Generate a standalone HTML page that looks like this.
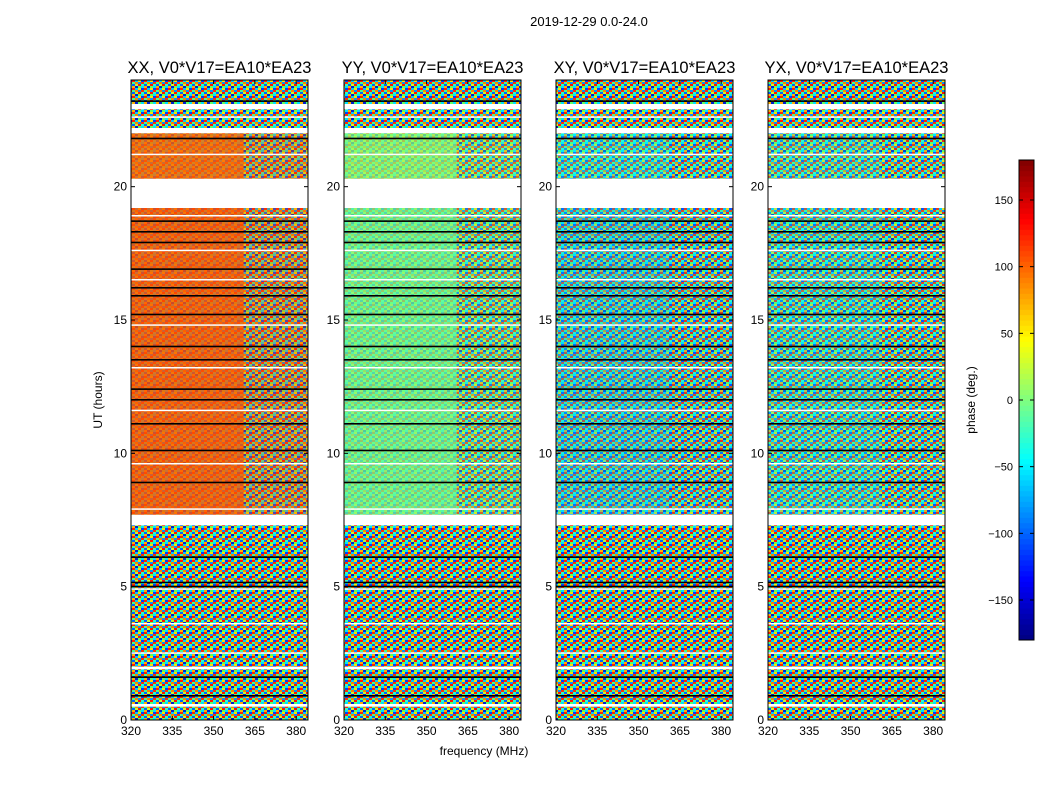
<!DOCTYPE html>
<html><head><meta charset="utf-8">
<style>
body{margin:0;background:#fff;}
svg{display:block;font-family:"Liberation Sans","DejaVu Sans",sans-serif;}
</style></head>
<body>
<svg id="chart" width="1050" height="800" viewBox="0 0 1050 800" xmlns="http://www.w3.org/2000/svg">
<defs>
<pattern id="noise" width="12" height="8" patternUnits="userSpaceOnUse">
<rect x="0" y="0" width="3" height="2" fill="#ff2000"/><rect x="3" y="0" width="3" height="2" fill="#00c8ff"/><rect x="6" y="0" width="3" height="2" fill="#ffe000"/><rect x="9" y="0" width="3" height="2" fill="#0040ff"/>
<rect x="0" y="2" width="3" height="2" fill="#40ff90"/><rect x="3" y="2" width="3" height="2" fill="#ff8000"/><rect x="6" y="2" width="3" height="2" fill="#0090ff"/><rect x="9" y="2" width="3" height="2" fill="#ff3000"/>
<rect x="0" y="4" width="3" height="2" fill="#0060ff"/><rect x="3" y="4" width="3" height="2" fill="#c0ff30"/><rect x="6" y="4" width="3" height="2" fill="#ff1000"/><rect x="9" y="4" width="3" height="2" fill="#30ffc0"/>
<rect x="0" y="6" width="3" height="2" fill="#ffb000"/><rect x="3" y="6" width="3" height="2" fill="#0020d0"/><rect x="6" y="6" width="3" height="2" fill="#60ff60"/><rect x="9" y="6" width="3" height="2" fill="#00e0ff"/>
</pattern>
</defs>
<text x="589" y="26" font-size="13" text-anchor="middle">2019-12-29 0.0-24.0</text>
<g id="panels"></g>
<text x="484" y="755" font-size="12" text-anchor="middle">frequency (MHz)</text>
<text transform="translate(102,400) rotate(-90)" font-size="12" text-anchor="middle">UT (hours)</text>
<g id="cbar"></g>
<text transform="translate(975,400) rotate(-90)" font-size="12" text-anchor="middle">phase (deg.)</text>
</svg>
<script>
const panelTitles = ["XX, V0*V17=EA10*EA23","YY, V0*V17=EA10*EA23","XY, V0*V17=EA10*EA23","YX, V0*V17=EA10*EA23"];
const xTicks = [320,335,350,365,380];
const yTicks = [0,5,10,15,20];
const cbTicks = [150,100,50,0,-50,-100,-150];
const blockStart = [0.0,0.5,0.6,1.9,2.0,7.3,7.7,19.2,20.3,22.0,22.2,22.9,23.1];
const blockEnd   = [0.5,0.6,1.9,2.0,7.3,7.7,19.2,20.3,22.0,22.2,22.9,23.1,24.0];
const blockKind  = [1,0,1,0,1,0,2,0,2,0,1,0,1];
const meanXX = [0,0,0,0,0,0,105,0,100,0,0,0,0];
const meanYY = [0,0,0,0,0,0,-5,0,5,0,0,0,0];
const meanXY = [0,0,0,0,0,0,-60,0,-40,0,0,0,0];
const meanYX = [0,0,0,0,0,0,-40,0,-30,0,0,0,0];
const means = [meanXX,meanYY,meanXY,meanYX];
const biasStrength = [0.8,0.75,0.35,0.3];
const blackLines = [0.9,1.6,5.0,5.15,6.1,8.9,10.1,11.1,12.0,12.4,13.5,14.0,15.2,15.9,16.2,16.9,17.9,18.3,18.7,21.8,23.2];
const whiteLines = [2.5,3.6,4.9,7.9,9.6,11.6,13.2,14.8,16.5,17.6,18.9,21.2,22.6];

const NS="http://www.w3.org/2000/svg";
const svg=document.getElementById('chart');
function mk(t,a,p){const e=document.createElementNS(NS,t);for(const k in a)e.setAttribute(k,a[k]);(p||svg).appendChild(e);return e;}
function jet(v){const t=(v+180)/360;const r=Math.max(0,Math.min(1,1.5-Math.abs(4*t-3))),g=Math.max(0,Math.min(1,1.5-Math.abs(4*t-2))),b=Math.max(0,Math.min(1,1.5-Math.abs(4*t-1)));return `rgb(${Math.round(r*255)},${Math.round(g*255)},${Math.round(b*255)})`;}

const panelLeft=[131,344,556,768], pw=177, pTop=80, pBot=720;
const fMin=320,fMax=384.3, hMax=24;
const panelsG=document.getElementById('panels');
panelLeft.forEach((L,p)=>{
  const g=mk('g',{},panelsG);
  
  
  const X=f=>L+(f-fMin)/(fMax-fMin)*pw;
  const Y=h=>pBot-h/hMax*(pBot-pTop);
  blockStart.forEach((s,i)=>{
    const y0=Y(blockEnd[i]),y1=Y(s);
    if(blockKind[i]===0)return;
    const r=mk('rect',{x:L,y:y0,width:pw,height:y1-y0,fill:'url(#noise)'},g);
    
    
    if(blockKind[i]===2){
      const b=mk('rect',{x:L,y:y0,width:X(361)-L,height:y1-y0,fill:jet(means[p][i]),opacity:biasStrength[p]},g);
      
      
      const b2=mk('rect',{x:X(361),y:y0,width:L+pw-X(361),height:y1-y0,fill:jet(means[p][i]),opacity:biasStrength[p]*0.4},g);
      
      
    }
  });
  blackLines.forEach(h=>{const l=mk('rect',{x:L,y:Y(h)-1,width:pw,height:1.6,fill:'#000'},g);});
  whiteLines.forEach(h=>{const l=mk('rect',{x:L,y:Y(h)-1,width:pw,height:1.5,fill:'#fff'},g);});
  const fr=mk('rect',{x:L,y:pTop,width:pw,height:pBot-pTop,fill:'none',stroke:'#000','stroke-width':1},g);
  
  const t=mk('text',{x:L+pw/2,y:pTop-7,'font-size':16.5,'text-anchor':'middle'},g);t.textContent=panelTitles[p];
  
  xTicks.forEach(v=>{const x=X(v);mk('line',{x1:x,x2:x,y1:pBot,y2:pBot-4,stroke:'#000'},g);mk('line',{x1:x,x2:x,y1:pTop,y2:pTop+4,stroke:'#000'},g);
    const tl=mk('text',{x:x,y:pBot+15,'font-size':12,'text-anchor':'middle'},g);tl.textContent=v;});
  yTicks.forEach(v=>{const y=Y(v);mk('line',{x1:L,x2:L+4,y1:y,y2:y,stroke:'#000'},g);mk('line',{x1:L+pw,x2:L+pw-4,y1:y,y2:y,stroke:'#000'},g);
    const tl=mk('text',{x:L-4,y:y+4,'font-size':12,'text-anchor':'end'},g);tl.textContent=v;});
});
const cb=document.getElementById('cbar');

const cbX=1019,cbW=15,cbT=160,cbB=640;
const CY=v=>cbB-(v+180)/360*(cbB-cbT);
for(let v=-180;v<180;v+=4){mk('rect',{x:cbX,y:CY(v+4),width:cbW,height:CY(v)-CY(v+4)+0.5,fill:jet(v+2)},cb);}
mk('rect',{x:cbX,y:cbT,width:cbW,height:cbB-cbT,fill:'none',stroke:'#000'},cb);
cbTicks.forEach(v=>{const y=CY(v);mk('line',{x1:cbX,x2:cbX+4,y1:y,y2:y,stroke:'#000'},cb);mk('line',{x1:cbX+cbW,x2:cbX+cbW-4,y1:y,y2:y,stroke:'#000'},cb);
  const t=mk('text',{x:cbX-6,y:y+4,'font-size':11,'text-anchor':'end'},cb);t.textContent=v<0?'\u2212'+(-v):v;
  });
</script>
</body></html>
